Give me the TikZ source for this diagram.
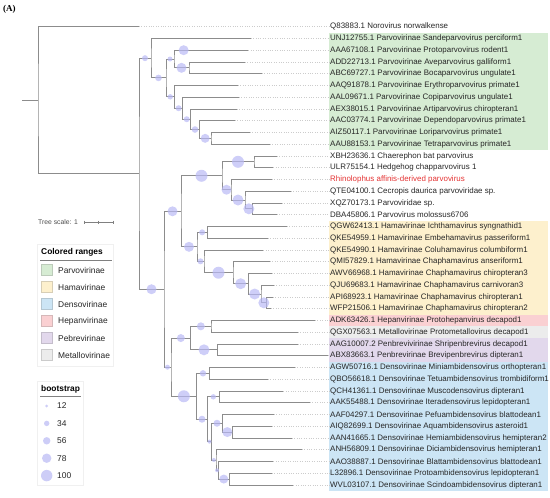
\documentclass[tikz,border=0pt]{standalone}
\usepackage{fontspec}
\setmainfont{Liberation Sans}
\newfontfamily\panelfont{Liberation Serif}
\usepackage{xcolor}
\usetikzlibrary{calc,positioning}

\definecolor{branch}{RGB}{140,140,140}
\definecolor{bootfill}{RGB}{185,185,245}
\definecolor{parvo}{RGB}{214,236,211}
\definecolor{hama}{RGB}{253,240,205}
\definecolor{denso}{RGB}{204,229,245}
\definecolor{hepan}{RGB}{250,208,210}
\definecolor{pebre}{RGB}{226,216,236}
\definecolor{metallo}{RGB}{236,236,236}
\definecolor{rhino}{RGB}{228,50,50}

\newcommand\clade[4]{%
  \path ($(#3)!.5!(#4)$) coordinate (tmp);
  \coordinate (#1) at (#2,0 |- tmp);
  \draw[br] (#3) -| (#1) |- (#4);
}
\newcommand\bootc[3]{\fill[boot] ($(#1 |- #2)!.5!(#2)$) circle[radius=#3pt];}

\begin{document}
\begin{tikzpicture}[
  x=1pt, y=-1pt,
  br/.style={draw=branch, line width=0.9pt},
  guide/.style={draw=gray!40, line width=0.5pt, dash pattern=on 0.8pt off 1.6pt},
  leaf/.style={anchor=west, inner sep=0pt, text=black!85, font=\fontsize{7.95}{9}\selectfont},
  boot/.style={fill=bootfill, opacity=0.7},
  legbox/.style={fill=white, draw=gray!12, line width=0.4pt},
  legtitle/.style={anchor=west, inner sep=0pt, font=\fontsize{8.4}{10}\selectfont\bfseries},
  legtext/.style={anchor=west, inner sep=0pt, text=black!85, font=\fontsize{8.4}{10}\selectfont},
  swatch/.style={minimum width=11.5pt, minimum height=11pt, inner sep=0pt, line width=0.5pt}
]
\useasboundingbox (0,0) rectangle (550,498);

\fill[parvo]   (329,32.6)  rectangle (548,150.1);
\fill[hama]    (329,220.6) rectangle (548,314.6);
\fill[hepan]   (329,314.6) rectangle (548,326.3);
\fill[metallo] (329,326.3) rectangle (548,338.1);
\fill[pebre]   (329,338.1) rectangle (548,361.6);
\fill[denso]   (329,361.6) rectangle (548,490.9);

\node[anchor=west, inner sep=0pt, font=\panelfont\fontsize{9}{10}\selectfont\bfseries] (panel) at (3,9.5) {(A)};

\foreach \i/\ex/\lab in {
  1/139/{Q83883.1 Norovirus norwalkense},
  2/250.7/{UNJ12755.1 Parvovirinae Sandeparvovirus perciform1},
  3/248.3/{AAA67108.1 Parvovirinae Protoparvovirus rodent1},
  4/245/{ADD22713.1 Parvovirinae Aveparvovirus galliform1},
  5/262/{ABC69727.1 Parvovirinae Bocaparvovirus ungulate1},
  6/238/{AAQ91878.1 Parvovirinae Erythroparvovirus primate1},
  7/239/{AAL09671.1 Parvovirinae Copiparvovirus ungulate1},
  8/237/{AEX38015.1 Parvovirinae Artiparvovirus chiropteran1},
  9/235/{AAC03774.1 Parvovirinae Dependoparvovirus primate1},
  10/250/{AIZ50117.1 Parvovirinae Loriparvovirus primate1},
  11/270/{AAU88153.1 Parvovirinae Tetraparvovirus primate1},
  12/276.7/{XBH23636.1 Chaerephon bat parvovirus},
  13/273.3/{ULR75154.1 Hedgehog chapparvovirus 1},
  14/271.7/{\textcolor{rhino}{Rhinolophus affinis-derived parvovirus}},
  15/291/{QTE04100.1 Cecropis daurica parvoviridae sp.},
  16/281.7/{XQZ70173.1 Parvoviridae sp.},
  17/277/{DBA45806.1 Parvovirus molossus6706},
  18/286.7/{QGW62413.1 Hamavirinae Ichthamavirus syngnathid1},
  19/267.7/{QKE54959.1 Hamavirinae Embehamavirus passeriform1},
  20/263.3/{QKE54990.1 Hamavirinae Coluhamavirus columbiform1},
  21/270/{QMI57829.1 Hamavirinae Chaphamavirus anseriform1},
  22/271.7/{AWV66968.1 Hamavirinae Chaphamavirus chiropteran3},
  23/274/{QJU69683.1 Hamavirinae Chaphamavirus carnivoran3},
  24/273/{API68923.1 Hamavirinae Chaphamavirus chiropteran1},
  25/271/{WFP21506.1 Hamavirinae Chaphamavirus chiropteran2},
  26/315/{ADK63426.1 Hepanvirinae Protohepanvirus decapod1},
  27/297.7/{QGX07563.1 Metallovirinae Protometallovirus decapod1},
  28/297.7/{AAG10007.2 Penbrevivirinae Shripenbrevirus decapod1},
  29/328/{ABX83663.1 Penbrevirinae Brevipenbrevirus dipteran1},
  30/295/{AGW50716.1 Densovirinae Miniambidensovirus orthopteran1},
  31/268/{QBO56618.1 Densovirinae Tetuambidensovirus trombidiform1},
  32/283.3/{QCH41361.1 Densovirinae Muscodensovirus dipteran1},
  33/310/{AAK55488.1 Densovirinae Iteradensovirus lepidopteran1},
  34/274/{AAF04297.1 Densovirinae Pefuambidensovirus blattodean1},
  35/271.7/{AIQ82699.1 Densovirinae Aquambidensovirus asteroid1},
  36/291.7/{AAN41665.1 Densovirinae Hemiambidensovirus hemipteran2},
  37/301.7/{ANH56809.1 Densovirinae Diciambidensovirus hemipteran1},
  38/273.3/{AAO38887.1 Densovirinae Blattambidensovirus blattodean1},
  39/271.7/{L32896.1 Densovirinae Protoambidensovirus lepidopteran1},
  40/293.3/{WVL03107.1 Densovirinae Scindoambidensovirus dipteran1}} {
  \coordinate (e\i) at (\ex,{26.7+(\i-1)*11.75});
  \node[leaf] (l\i) at (330,{26.7+(\i-1)*11.75}) {\lab};
  \draw[guide] (e\i) -- (l\i.west);
}

\clade{pv4}{189}{e4}{e5}
\clade{pv3}{174}{e3}{pv4}
\clade{pv9}{211}{e10}{e11}
\clade{pv8}{199.3}{e9}{pv9}
\clade{pv7}{190.7}{e8}{pv8}
\clade{pv6}{182.7}{e7}{pv7}
\clade{pv5}{174.5}{e6}{pv6}
\clade{pv2}{166}{pv3}{pv5}
\clade{pv1}{151}{e2}{pv2}
\clade{bat}{254}{e12}{e13}
\clade{un3}{252.7}{e16}{e17}
\clade{un2}{245}{e15}{un3}
\clade{un1}{231}{e14}{un2}
\clade{chap}{222}{bat}{un1}
\clade{hm1}{207.3}{e18}{e19}
\clade{hm6}{266.7}{e24}{e25}
\clade{hm5}{261}{e23}{hm6}
\clade{hm4}{248.3}{e22}{hm5}
\clade{hm3}{233}{e21}{hm4}
\clade{hm2}{204}{e20}{hm3}
\clade{hama}{197}{hm1}{hm2}
\clade{upper}{181}{chap}{hama}
\clade{hepmet}{211}{e26}{e27}
\clade{pen}{217.3}{e28}{e29}
\clade{hmp}{190.7}{hepmet}{pen}
\clade{dn1}{209.3}{e30}{e31}
\clade{dn3}{219.3}{e32}{e33}
\clade{dn6}{232.3}{e35}{e36}
\clade{dn5}{222.3}{e34}{dn6}
\clade{dn9}{229.3}{e39}{e40}
\clade{dn8}{218.3}{e38}{dn9}
\clade{dn7}{216}{e37}{dn8}
\clade{dn4}{211.7}{dn5}{dn7}
\clade{dn2}{207.3}{dn3}{dn4}
\clade{denso}{196.7}{dn1}{dn2}
\clade{lower}{171}{hmp}{denso}
\clade{nonpv}{164}{upper}{lower}
\clade{ingroup}{139}{pv1}{nonpv}
\clade{root}{38}{e1}{ingroup}
\draw[br] (root) -- ++(-16,0);

\bootc{ingroup}{pv1}{3}
\bootc{pv1}{pv2}{3.3}
\bootc{pv2}{pv3}{2.5}
\fill[boot] ($(pv3 |- e3)!.13!(e3)$) circle[radius=5pt];
\bootc{pv3}{pv4}{5}
\bootc{pv2}{pv5}{2.7}
\bootc{pv5}{pv6}{3}
\bootc{pv6}{pv7}{3}
\bootc{pv7}{pv8}{3.3}
\bootc{pv8}{pv9}{4.5}
\bootc{ingroup}{nonpv}{5}
\bootc{nonpv}{upper}{5}
\bootc{upper}{chap}{6}
\bootc{chap}{bat}{6}
\bootc{chap}{un1}{5}
\bootc{un1}{un2}{5.5}
\bootc{un2}{un3}{5.5}
\bootc{upper}{hama}{5}
\bootc{hama}{hm1}{3}
\bootc{hama}{hm2}{3}
\bootc{hm2}{hm3}{6}
\bootc{hm3}{hm4}{5.5}
\bootc{hm4}{hm5}{5.5}
\bootc{hm5}{hm6}{5.5}
\bootc{nonpv}{lower}{2.5}
\bootc{lower}{hmp}{4}
\bootc{hmp}{hepmet}{4}
\bootc{hmp}{pen}{5.5}
\bootc{lower}{denso}{6}
\bootc{denso}{dn1}{3.2}
\bootc{denso}{dn2}{3.5}
\bootc{dn2}{dn3}{2.7}
\bootc{dn2}{dn4}{2}
\bootc{dn4}{dn5}{3.5}
\bootc{dn5}{dn6}{5}
\bootc{dn4}{dn7}{2}
\bootc{dn7}{dn8}{2}
\bootc{dn8}{dn9}{4.5}

\node[anchor=west, inner sep=0pt, text=gray!60!black, font=\fontsize{6.8}{8}\selectfont] (scale) at (38,222.3) {Tree scale: 1};
\coordinate (sb1) at (84,222.3);
\coordinate (sb2) at (113,222.3);
\draw[draw=gray, line width=0.5pt] (sb1) -- (sb2);
\foreach \p in {0,0.5,1}
  \draw[draw=gray, line width=0.5pt] ($(sb1)!\p!(sb2)+(0,-1.8)$) -- ($(sb1)!\p!(sb2)+(0,1.8)$);

\draw[legbox] (37,244) rectangle (113,366);
\node[legtitle] (cr) at (41,252.7) {Colored ranges};
\draw[draw=gray, line width=0.5pt] (40,260.5) -- (112,260.5);
\foreach \n/\c [count=\k] in {Parvovirinae/parvo, Hamavirinae/hama, Densovirinae/denso, Hepanvirinae/hepan, Pebrevirinae/pebre, Metallovirinae/metallo} {
  \node[swatch, fill=\c, draw=\c!70!gray] (sw\k) at (46.5,{270+(\k-1)*17}) {};
  \node[legtext, right=5.5pt of sw\k] (rl\k) {\n};
}

\draw[legbox] (37,381) rectangle (83,485);
\node[legtitle] (bt) at (41,389.3) {bootstrap};
\draw[draw=gray, line width=0.5pt] (40,396.5) -- (81,396.5);
\foreach \v/\r [count=\k] in {12/1.5, 34/2.7, 56/3.7, 78/4.7, 100/5.7} {
  \coordinate (bc\k) at (46.7,{406+(\k-1)*17.4});
  \fill[boot] (bc\k) circle[radius=\r pt];
  \node[legtext] (bl\k) at (57,{406+(\k-1)*17.4}) {\v};
}
\end{tikzpicture}
\end{document}
